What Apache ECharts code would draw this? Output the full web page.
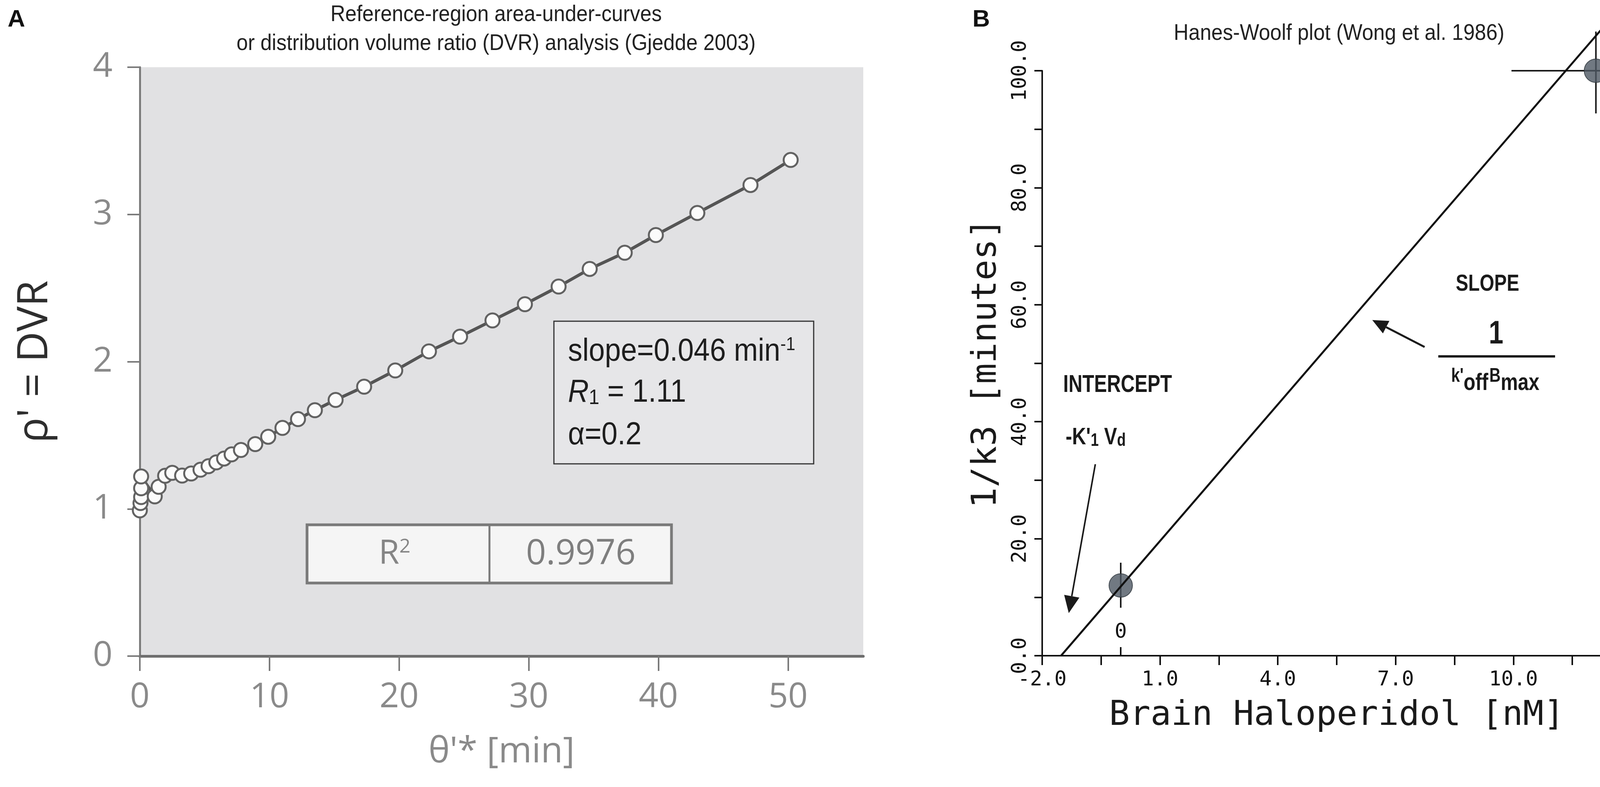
<!DOCTYPE html>
<html>
<head>
<meta charset="utf-8">
<script src="https://cdn.jsdelivr.net/npm/echarts@6/dist/echarts.min.js"></script>
<style>
  html, body { margin: 0; padding: 0; background: #fff; }
  #chart { width: 4328px; height: 2014px; }
</style>
</head>
<body>
<div id="chart"></div>
<script>
// Panel A - reference-region DVR plot
const dvrTheta = [0, 0.05, 0.1, 0.1, 0.1, 1.15, 1.45, 1.95, 2.5, 3.26, 3.96, 4.68, 5.3, 5.9, 6.5, 7.08, 7.8,
  8.9, 9.9, 11.0, 12.2, 13.5, 15.1, 17.3, 19.7, 22.3, 24.7, 27.2, 29.7, 32.3, 34.7, 37.4, 39.8, 43.0, 47.1, 50.2];
const dvrRho = [0.99, 1.04, 1.08, 1.14, 1.22, 1.085, 1.15, 1.225, 1.245, 1.226, 1.24, 1.266, 1.29, 1.316, 1.342, 1.37, 1.40,
  1.44, 1.49, 1.55, 1.61, 1.67, 1.74, 1.83, 1.94, 2.07, 2.17, 2.28, 2.39, 2.51, 2.63, 2.74, 2.86, 3.01, 3.20, 3.37];
const dvrXTicks = [0, 10, 20, 30, 40, 50];
const dvrYTicks = [0, 1, 2, 3, 4];

// Panel B - Hanes-Woolf plot
const hwX = [0.0, 12.1];
const hwY = [12.0, 100.0];
const hwXLow = [0.0, 9.95];
const hwXHigh = [0.0, 14.4];
const hwYLow = [8.2, 92.7];
const hwYHigh = [15.9, 106.7];
const hwFitX = [-1.52, 12.72];
const hwFitY = [0, 110.8];
const hwXTicks = [-2, -0.5, 1, 2.5, 4, 5.5, 7, 8.5, 10, 11.5, 13];
const hwXLabels = [-2, 1, 4, 7, 10, 13];
const hwYTicks = [0, 10, 20, 30, 40, 50, 60, 70, 80, 90, 100];
const hwYLabels = [0, 20, 40, 60, 80, 100];

const mono = "'DejaVu Sans Mono', 'Liberation Mono', monospace";
const sans = "'Open Sans', 'Noto Sans', sans-serif";
const arial = "'Liberation Sans', Arial, sans-serif";

// text helper; sx squeezes the glyphs horizontally (no narrow font installed)
function text (x, y, str, style, sx) {
  return {
    type: 'text', x: x, y: y, silent: true, scaleX: sx || 1,
    style: Object.assign({
      text: str, align: 'center', verticalAlign: 'middle',
      textAlign: 'center', textVerticalAlign: 'middle', fill: '#1a1a1a', fontFamily: arial
    }, style)
  };
}

function arrow (x1, y1, x2, y2, width, head) {
  const a = Math.atan2(y2 - y1, x2 - x1);
  const bx = x2 - head * Math.cos(a);
  const by = y2 - head * Math.sin(a);
  const w = head * 0.45;
  return [
    { type: 'line', silent: true, shape: { x1: x1, y1: y1, x2: bx, y2: by },
      style: { stroke: '#1a1a1a', lineWidth: width } },
    { type: 'polygon', silent: true,
      shape: { points: [[x2, y2], [bx + w * Math.sin(a), by - w * Math.cos(a)], [bx - w * Math.sin(a), by + w * Math.cos(a)]] },
      style: { fill: '#1a1a1a' } }
  ];
}

const bold = (size, extra) => Object.assign({ fontSize: size, fontWeight: 'bold', fontFamily: arial, fill: '#1a1a1a' }, extra);

const gridA = { left: 358, top: 172, width: 1852, height: 1507 };
const gridB = { left: 2668, top: 181, width: 1508, height: 1497 };

const option = {
  backgroundColor: '#fff',
  animation: false,
  grid: [
    Object.assign({ show: true, backgroundColor: '#e1e1e3', borderWidth: 0 }, gridA),
    Object.assign({ show: false }, gridB)
  ],
  xAxis: [
    {
      gridIndex: 0, type: 'value', min: 0, max: 55.8,
      name: "θ'* [min]", nameLocation: 'middle', nameGap: 200,
      nameTextStyle: { fontSize: 92, color: '#8a8a8a', fontFamily: sans },
      axisLine: { show: true, lineStyle: { color: '#6e6e6e', width: 7 } },
      axisTick: { show: true, customValues: dvrXTicks, length: 38, lineStyle: { color: '#7a7a7a', width: 4 } },
      axisLabel: { customValues: dvrXTicks, margin: 62, fontSize: 88, color: '#8a8a8a', fontFamily: sans },
      splitLine: { show: false }
    },
    {
      gridIndex: 1, type: 'value', min: -2, max: 13,
      name: 'Brain Haloperidol [nM]', nameLocation: 'middle', nameGap: 110,
      nameTextStyle: { fontSize: 88, color: '#1a1a1a', fontFamily: mono },
      axisLine: { show: true, onZero: false, lineStyle: { color: '#111', width: 4 } },
      axisTick: { show: true, customValues: hwXTicks, length: 24, lineStyle: { color: '#111', width: 4 } },
      axisLabel: { customValues: hwXLabels, margin: 36, fontSize: 52, color: '#111', fontFamily: mono,
        formatter: v => v.toFixed(1) },
      splitLine: { show: false }
    },
    {
      gridIndex: 1, type: 'value', min: -2, max: 13, position: 'bottom',
      axisLine: { show: false },
      axisTick: { show: true, inside: true, customValues: [0], length: 22, lineStyle: { color: '#111', width: 4 } },
      axisLabel: { inside: true, customValues: [0], margin: 34, fontSize: 52, color: '#111', fontFamily: mono,
        formatter: () => '0' },
      splitLine: { show: false }
    }
  ],
  yAxis: [
    {
      gridIndex: 0, type: 'value', min: 0, max: 4, interval: 1,
      name: "ρ' = DVR", nameLocation: 'middle', nameGap: 214,
      nameTextStyle: { fontSize: 108, color: '#2e2e2e', fontFamily: sans },
      axisLine: { show: true, lineStyle: { color: '#7b7b7b', width: 5 } },
      axisTick: { show: true, customValues: dvrYTicks, length: 32, lineStyle: { color: '#7b7b7b', width: 4 } },
      axisLabel: { customValues: dvrYTicks, margin: 70, fontSize: 88, color: '#8a8a8a', fontFamily: sans },
      splitLine: { show: false }
    },
    {
      gridIndex: 1, type: 'value', min: 0, max: 100, interval: 10,
      name: '1/k3 [minutes]', nameLocation: 'middle', nameGap: 98,
      nameTextStyle: { fontSize: 88, color: '#1a1a1a', fontFamily: mono },
      axisLine: { show: true, onZero: false, lineStyle: { color: '#111', width: 4 } },
      axisTick: { show: true, customValues: hwYTicks, length: 20, lineStyle: { color: '#111', width: 4 } },
      axisLabel: { customValues: hwYLabels, rotate: 90, margin: 30, fontSize: 52, color: '#111', fontFamily: mono,
        formatter: v => v.toFixed(1) },
      splitLine: { show: false }
    }
  ],
  series: [
    {
      type: 'line', xAxisIndex: 0, yAxisIndex: 0, clip: false,
      data: dvrTheta.map((t, i) => [t, dvrRho[i]]),
      symbol: 'circle', symbolSize: 36, showAllSymbol: true,
      lineStyle: { color: '#555', width: 8 },
      itemStyle: { color: '#fbfbfb', borderColor: '#626262', borderWidth: 5 }
    },
    {
      type: 'line', xAxisIndex: 1, yAxisIndex: 1, clip: false,
      data: hwFitX.map((x, i) => [x, hwFitY[i]]),
      symbol: 'none',
      lineStyle: { color: '#111', width: 5 }
    },
    {
      type: 'custom', xAxisIndex: 1, yAxisIndex: 1, clip: false,
      data: hwX.map((x, i) => [x, hwY[i], hwXLow[i], hwXHigh[i], hwYLow[i], hwYHigh[i]]),
      renderItem: function (params, api) {
        const c = api.coord([api.value(0), api.value(1)]);
        const xl = api.coord([api.value(2), api.value(1)]);
        const xh = api.coord([api.value(3), api.value(1)]);
        const yl = api.coord([api.value(0), api.value(4)]);
        const yh = api.coord([api.value(0), api.value(5)]);
        const st = { stroke: '#1a1a1a', lineWidth: 4 };
        const kids = [{ type: 'line', shape: { x1: c[0], y1: yl[1], x2: c[0], y2: yh[1] }, style: st }];
        if (xh[0] - xl[0] > 1) {
          kids.push({ type: 'line', shape: { x1: xl[0], y1: c[1], x2: xh[0], y2: c[1] }, style: st });
        }
        return { type: 'group', children: kids };
      }
    },
    {
      type: 'scatter', xAxisIndex: 1, yAxisIndex: 1, clip: false,
      data: hwX.map((x, i) => [x, hwY[i]]),
      symbol: 'circle', symbolSize: 60,
      itemStyle: { color: '#4d5863', borderColor: '#2c333a', borderWidth: 2 }
    }
  ],
  graphic: [
    text(42, 51, 'A', bold(62, { fill: '#111' })),
    text(2512, 51, 'B', bold(62, { fill: '#111' })),
    text(1270, 75, 'Reference-region area-under-curves\nor distribution volume ratio (DVR) analysis (Gjedde 2003)',
      { fontSize: 57, lineHeight: 74, fill: '#222' }, 0.92),
    text(3428, 86, 'Hanes-Woolf plot (Wong et al. 1986)', { fontSize: 57, fill: '#222' }, 0.92),

    // slope box
    { type: 'rect', silent: true, shape: { x: 1418, y: 822, width: 665, height: 365 },
      style: { fill: 'rgba(240,240,242,0.35)', stroke: '#333', lineWidth: 3 } },
    text(1454, 900, '{a|slope=0.046 min}{s|-1}', { align: 'left', textAlign: 'left',
      rich: { a: { fontSize: 82, fontFamily: arial, fill: '#1e1e1e', lineHeight: 82 },
        s: { fontSize: 48, fontFamily: arial, fill: '#1e1e1e', verticalAlign: 'top', lineHeight: 48 } } }, 0.9),
    text(1454, 1005, '{i|R}{b|1}{a| = 1.11}', { align: 'left', textAlign: 'left',
      rich: { a: { fontSize: 82, fontFamily: arial, fill: '#1e1e1e', lineHeight: 82 },
        i: { fontSize: 82, fontFamily: arial, fontStyle: 'italic', fill: '#1e1e1e', lineHeight: 82 },
        b: { fontSize: 54, fontFamily: arial, fill: '#1e1e1e', verticalAlign: 'bottom', lineHeight: 20 } } }, 0.9),
    text(1454, 1114, 'α=0.2', { align: 'left', textAlign: 'left', fontSize: 82, fill: '#1e1e1e' }, 0.9),

    // R² table
    { type: 'rect', silent: true, shape: { x: 786, y: 1343, width: 933, height: 149 },
      style: { fill: '#f5f5f5', stroke: '#7a7a7a', lineWidth: 7 } },
    { type: 'line', silent: true, shape: { x1: 1253, y1: 1343, x2: 1253, y2: 1492 },
      style: { stroke: '#7a7a7a', lineWidth: 5 } },
    text(1010, 1418, '{a|R}{s|2}', { rich: { a: { fontSize: 86, fontFamily: sans, fill: '#858585', lineHeight: 86 },
      s: { fontSize: 50, fontFamily: sans, fill: '#858585', verticalAlign: 'top', lineHeight: 50 } } }),
    text(1487, 1418, '0.9976', { fontSize: 90, fontFamily: sans, fill: '#7e7e7e' }),

    // panel B annotations
    text(3808, 727, 'SLOPE', bold(60), 0.8),
    text(3830, 856, '1', bold(84), 0.8),
    { type: 'line', silent: true, shape: { x1: 3682, y1: 912, x2: 3981, y2: 912 }, style: { stroke: '#1a1a1a', lineWidth: 6 } },
    text(3828, 975, "{k|k'}{o|off} {k|B}{o|max}", {
      rich: { k: bold(50, { verticalAlign: 'top', lineHeight: 44 }),
        o: bold(62, { verticalAlign: 'bottom', lineHeight: 74 }) } }, 0.8),
    text(2861, 986, 'INTERCEPT', bold(63), 0.78),
    text(2805, 1120, "{a|-K'}{s|1}{a| V}{s|d}", {
      rich: { a: bold(62, { lineHeight: 62 }), s: bold(46, { verticalAlign: 'bottom', lineHeight: 20 }) } }, 0.8)
  ].concat(arrow(3647, 888, 3513, 819, 5, 40), arrow(2804, 1188, 2736, 1569, 4, 44))
};

const chart = echarts.init(document.getElementById('chart'));
chart.setOption(option);
</script>
</body>
</html>
